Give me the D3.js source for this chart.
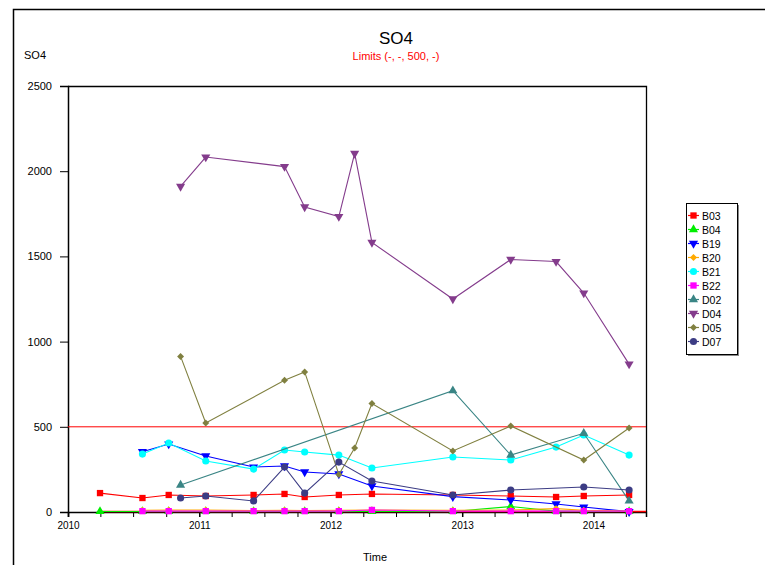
<!DOCTYPE html>
<html><head><meta charset="utf-8">
<script src="https://cdn.jsdelivr.net/npm/d3@7"></script>
<style>body{margin:0;background:#fff}svg{display:block;font-family:"Liberation Sans",Arial,sans-serif}</style>
</head><body><svg id="c" width="765" height="565"></svg>
<script>
const dates = ["2010-03-31","2010-07-27","2010-10-08","2010-11-10","2011-01-19","2011-06-01","2011-08-26","2011-10-21","2012-01-24","2012-03-08","2012-04-25","2012-12-06","2013-05-16","2013-09-19","2013-12-05","2014-04-10"];
const seriesNames = ["B03","B04","B19","B20","B21","B22","D02","D04","D05","D07"];
const B03 = [111,82,100,null,94,100,106,88,100,null,106,100,94,88,94,100];
const B04 = [3,3,3,null,3,3,3,3,3,null,3,3,32,5,3,3];
const B19 = [null,354,399,null,329,264,270,235,223,null,153,90,70,47,29,2];
const B20 = [null,10,12,null,12,8,10,8,10,null,12,10,12,20,10,5];
const B21 = [null,340,405,null,299,252,364,352,334,null,258,323,305,381,452,334];
const B22 = [null,5,5,null,5,5,5,5,5,null,12,5,5,5,5,5];
const D02 = [null,null,null,158,null,null,null,null,null,null,null,712,334,null,462,65];
const D04 = [null,null,null,1911,2083,null,2027,1790,1734,2104,1582,1250,1482,1470,1285,868];
const D05 = [null,null,null,913,522,null,773,822,220,376,637,358,505,null,305,493];
const D07 = [null,null,null,82,94,65,264,111,293,null,182,100,129,null,147,129];
const yTicks = [0,500,1000,1500,2000,2500];
const xTickYears = ["2010","2011","2012","2013","2014"];
const limitValue = 500;
const xDomain = ["2010-01-01","2014-05-27"];

const values = {B03,B04,B19,B20,B21,B22,D02,D04,D05,D07};
const colors = {B03:"#ff0000",B04:"#00ee00",B19:"#0000ff",B20:"#ffaa00",B21:"#00ffff",B22:"#ff00ff",D02:"#3a8585",D04:"#843c8c",D05:"#808040",D07:"#3c3c84"};
const shapes = {B03:"square",B04:"tup",B19:"tdown",B20:"diamond",B21:"circle",B22:"square",D02:"tup",D04:"tdown",D05:"diamond",D07:"circle"};

const parse = d3.timeParse("%Y-%m-%d");
const svg = d3.select("#c");
const L=68, R=646, T=86, B=512;
const x = d3.scaleTime().domain(xDomain.map(parse)).range([L,R]);
const y = d3.scaleLinear().domain([0,2500]).range([B,T]);

// outer frame
svg.append("path").attr("d","M13.5,565 L13.5,9.5 L765,9.5").attr("fill","none").attr("stroke","#000").attr("stroke-width",1.5);

// titles
svg.append("text").attr("x",396).attr("y",44).attr("text-anchor","middle").attr("font-size",17).text("SO4");
svg.append("text").attr("x",396).attr("y",60).attr("text-anchor","middle").attr("font-size",11).attr("fill","#ff0000").text("Limits (-, -, 500, -)");
svg.append("text").attr("x",24).attr("y",59).attr("font-size",11).text("SO4");
svg.append("text").attr("x",375).attr("y",561).attr("text-anchor","middle").attr("font-size",11).text("Time");

// plot box
svg.append("path").attr("d",`M${L},${T}.5 L${R}.5,${T}.5 L${R}.5,${B}`).attr("fill","none").attr("stroke","#000").attr("stroke-width",1.3);

// y axis
const ya = svg.append("g").attr("transform",`translate(${L},0)`).call(d3.axisLeft(y).tickValues(yTicks).tickSize(8).tickPadding(8).tickFormat(d3.format("d")));
ya.selectAll("text").attr("font-size",11).attr("font-family","Liberation Sans, Arial, sans-serif").attr("fill","#000");
ya.select(".domain").attr("stroke-width",1.5);

// x axis
const quarters = d3.timeMonth.every(3).range(x.domain()[0], x.domain()[1]);
const xa = svg.append("g").attr("transform",`translate(0,${B})`).call(d3.axisBottom(x).tickValues(quarters).tickSize(5).tickFormat(d=>d.getMonth()===0?d3.timeFormat("%Y")(d):""));
xa.selectAll("text").attr("font-size",10).attr("font-family","Liberation Sans, Arial, sans-serif").attr("fill","#000").attr("dy","0.9em");
xa.select(".domain").attr("stroke-width",1.5);
xa.selectAll(".tick line").attr("stroke-width",d=>d.getMonth()===0?1.5:1);

// limit lines
svg.append("line").attr("x1",L).attr("x2",R).attr("y1",y(limitValue)).attr("y2",y(limitValue)).attr("stroke","#ff0000").attr("stroke-width",1);
svg.append("line").attr("x1",x(parse(dates[0]))).attr("x2",R).attr("y1",y(0)-0.5).attr("y2",y(0)-0.5).attr("stroke","#ff0000").attr("stroke-width",1.5);

function sym(shape){
  if(shape==="square") return d3.symbol().type(d3.symbolSquare).size(40)();
  if(shape==="circle") return d3.symbol().type(d3.symbolCircle).size(40)();
  if(shape==="diamond") return d3.symbol().type(d3.symbolSquare).size(24)();
  return d3.symbol().type(d3.symbolTriangle).size(36)();
}
function rot(shape){
  if(shape==="tdown") return " rotate(180)";
  if(shape==="diamond") return " rotate(45)";
  return "";
}

const line = d3.line().x(d=>x(d.date)).y(d=>y(d.v));
seriesNames.forEach(n=>{
  const pts = dates.map((d,i)=>({date:parse(d),v:values[n][i]})).filter(p=>p.v!=null);
  const g = svg.append("g");
  g.append("path").attr("d",line(pts)).attr("fill","none").attr("stroke",colors[n]).attr("stroke-width",1.1);
  g.selectAll("path.m").data(pts).join("path").attr("class","m")
    .attr("d",sym(shapes[n]))
    .attr("transform",p=>`translate(${x(p.date)},${y(p.v)})${rot(shapes[n])}`)
    .attr("fill",colors[n]);
});

// legend
const lg = svg.append("g").attr("transform","translate(686,203)");
lg.append("rect").attr("x",0.5).attr("y",0.5).attr("width",51).attr("height",151).attr("fill","#fff").attr("stroke","#000").attr("stroke-width",1);
lg.append("line").attr("x1",52.5).attr("x2",52.5).attr("y1",2).attr("y2",153).attr("stroke","#888").attr("stroke-width",1);
lg.append("line").attr("x1",2).attr("x2",52.5).attr("y1",152.5).attr("y2",152.5).attr("stroke","#888").attr("stroke-width",1);
seriesNames.forEach((n,i)=>{
  const yy = 12.5 + i*14;
  lg.append("line").attr("x1",2).attr("x2",13).attr("y1",yy).attr("y2",yy).attr("stroke",colors[n]).attr("stroke-width",1.2);
  lg.append("path").attr("d",sym(shapes[n])).attr("transform",`translate(7.5,${yy})${rot(shapes[n])}`).attr("fill",colors[n]);
  lg.append("text").attr("x",16).attr("y",yy+4).attr("font-size",10.5).text(n);
});
</script></body></html>
